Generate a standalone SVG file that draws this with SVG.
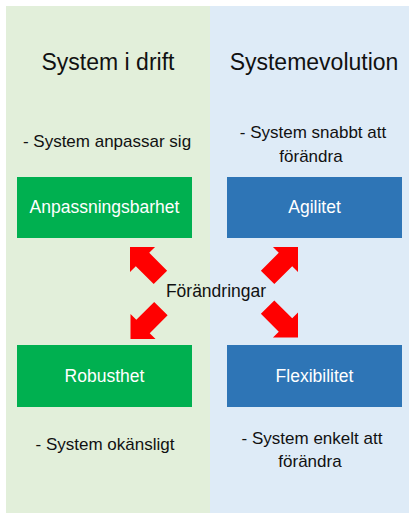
<svg xmlns="http://www.w3.org/2000/svg" width="409" height="513" viewBox="0 0 409 513">
  <style>
    .title { font-family: "Liberation Sans", Arial, sans-serif; font-size: 23px; fill: #111; text-anchor: middle; }
    .note { font-family: "Liberation Sans", Arial, sans-serif; font-size: 17px; fill: #111; text-anchor: middle; }
    .label { font-family: "Liberation Sans", Arial, sans-serif; font-size: 17.5px; fill: #ffffff; text-anchor: middle; }
    .center { font-size: 17.5px; }
    .green { fill: #00b050; }
    .blue { fill: #2e75b6; }
    .arrow { fill: #ff0000; }
  </style>
  <defs>
    <!-- Block arrow pointing along +x, tip at origin -->
    <polygon id="blockArrow" points="0,0 -17.7,-17.7 -17.7,-9.5 -43,-9.5 -43,9.5 -17.7,9.5 -17.7,17.7"/>
  </defs>

  <!-- Background panels -->
  <g id="panels">
    <rect x="6" y="6" width="204" height="507" fill="#e2efda"/>
    <rect x="210" y="6" width="199" height="507" fill="#deebf7"/>
  </g>

  <!-- Column headings and notes -->
  <g id="headings">
    <text class="title" x="108" y="70">System i drift</text>
    <text class="title" x="314" y="70">Systemevolution</text>
  </g>
  <g id="notes">
    <text class="note" x="107" y="147">- System anpassar sig</text>
    <text class="note" x="313" y="138">- System snabbt att</text>
    <text class="note" x="311" y="162">förändra</text>
    <text class="note" x="105" y="450">- System okänsligt</text>
    <text class="note" x="312" y="444">- System enkelt att</text>
    <text class="note" x="310" y="467">förändra</text>
  </g>

  <!-- Nodes -->
  <g id="anpassningsbarhet">
    <rect class="green" x="17" y="177" width="175" height="61"/>
    <text class="label" x="104.5" y="213">Anpassningsbarhet</text>
  </g>
  <g id="agilitet">
    <rect class="blue" x="227" y="177" width="175" height="61"/>
    <text class="label" x="314.5" y="213">Agilitet</text>
  </g>
  <g id="robusthet">
    <rect class="green" x="17" y="345" width="175" height="62"/>
    <text class="label" x="104.5" y="382">Robusthet</text>
  </g>
  <g id="flexibilitet">
    <rect class="blue" x="227" y="345" width="175" height="62"/>
    <text class="label" x="314.5" y="382">Flexibilitet</text>
  </g>

  <!-- Connectors: change arrows radiating from the centre -->
  <g id="connectors">
    <use href="#blockArrow" class="arrow" transform="translate(130 247) rotate(-135)"/>
    <use href="#blockArrow" class="arrow" transform="translate(298 247) rotate(-45)"/>
    <use href="#blockArrow" class="arrow" transform="translate(130.5 339) rotate(135)"/>
    <use href="#blockArrow" class="arrow" transform="translate(298 337.5) rotate(45)"/>
    <text class="note center" x="216" y="296.5">Förändringar</text>
  </g>
</svg>
